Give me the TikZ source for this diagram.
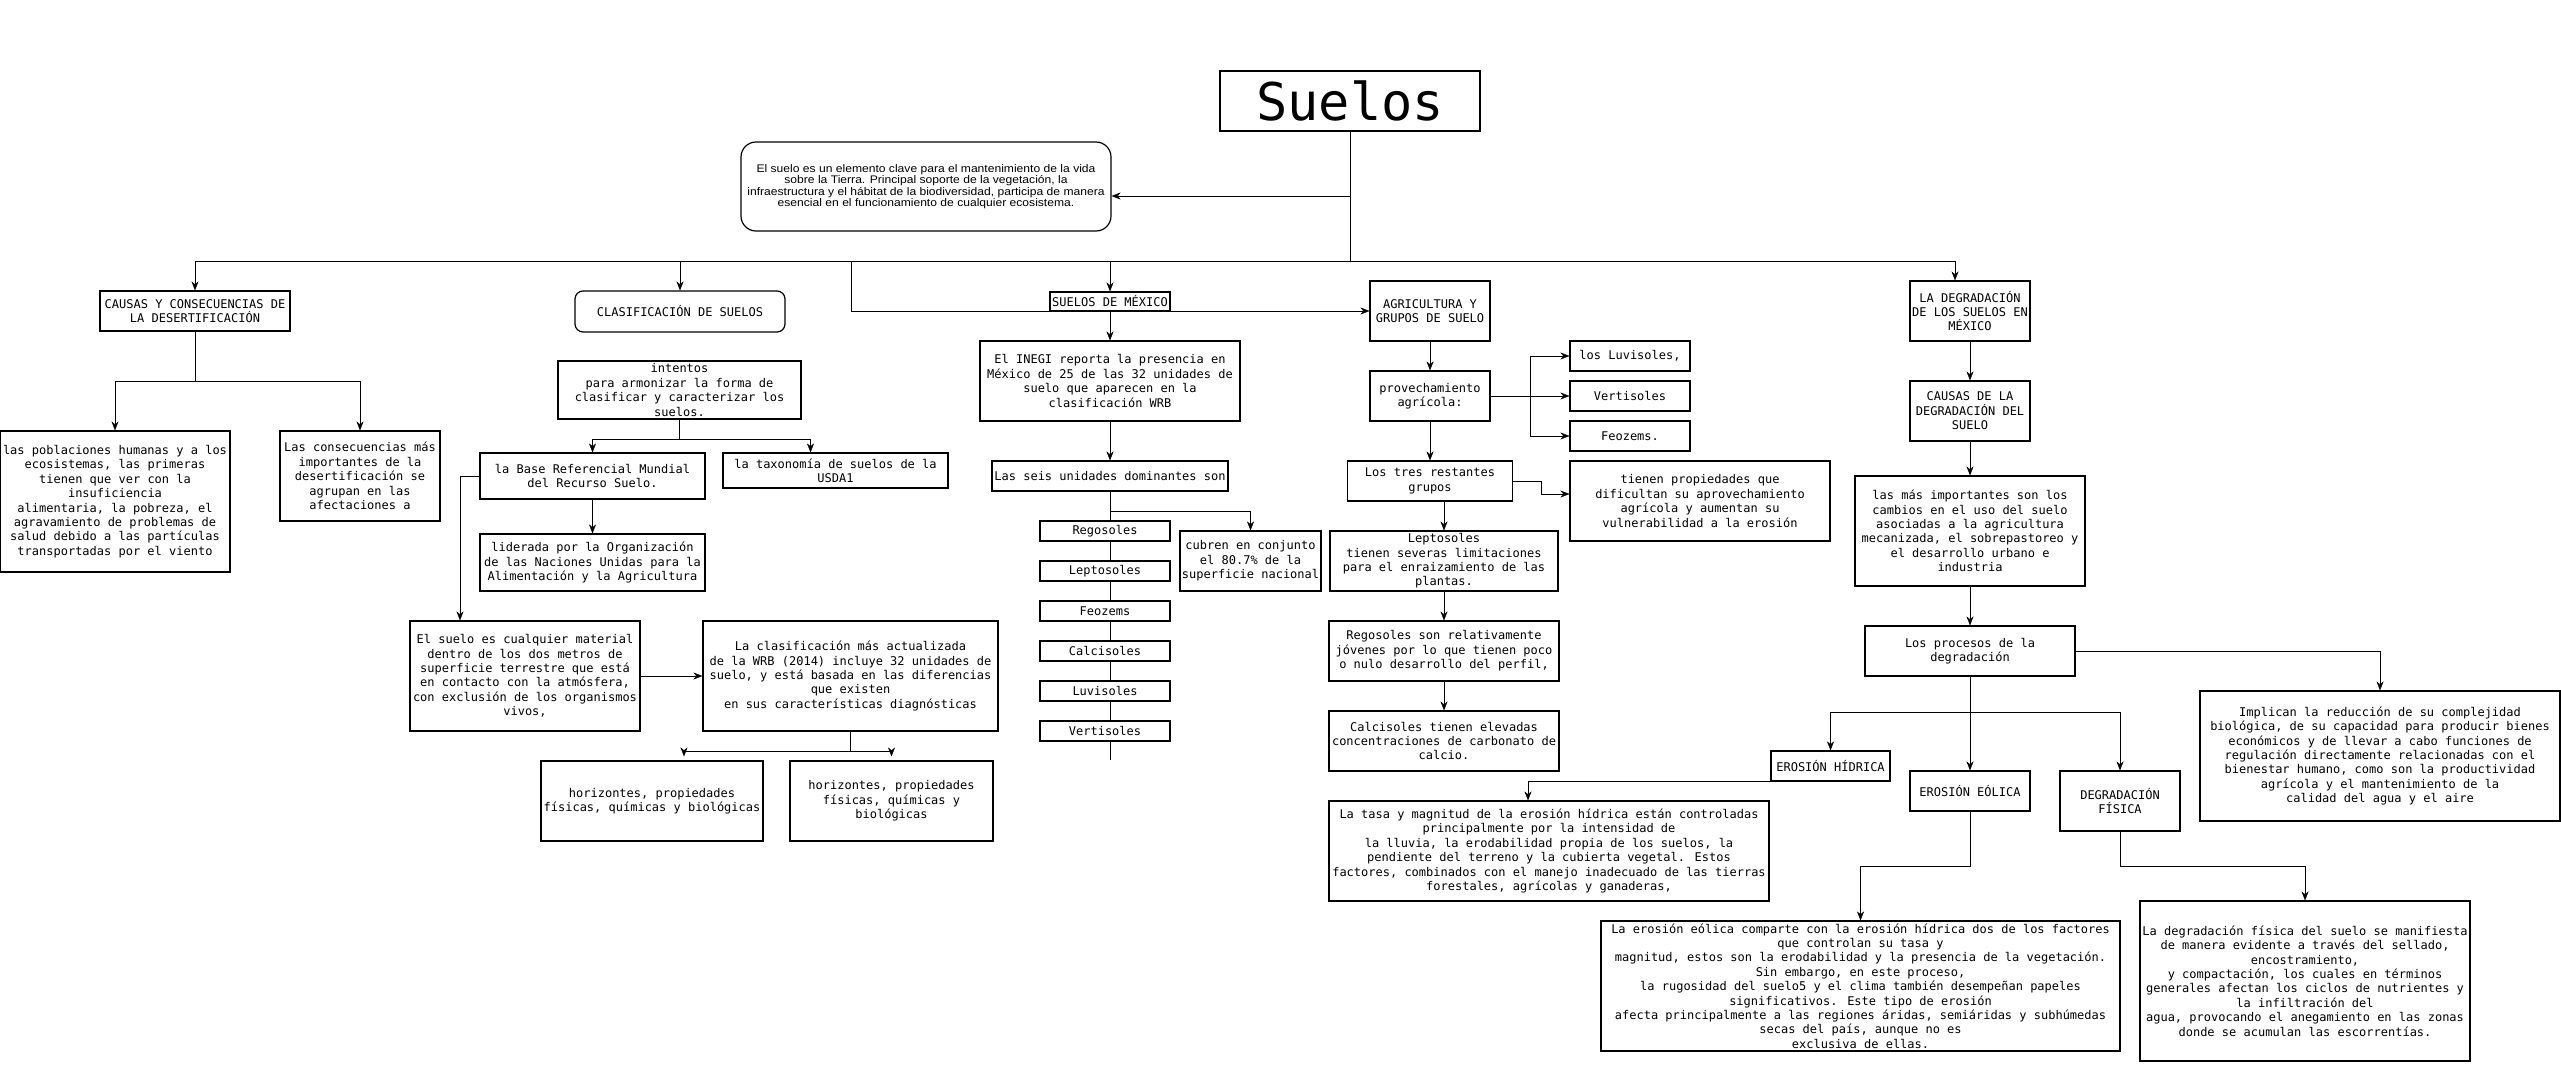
\documentclass[tikz,border=0pt]{standalone}
\usepackage{fontspec}
\usetikzlibrary{arrows.meta,backgrounds}
\newfontfamily\monofont{DejaVu Sans Mono}
\newfontfamily\introfont[FakeStretch=1.1]{Liberation Sans}

\begin{document}
\begin{tikzpicture}[x=1pt, y=-1pt, line width=1.2,
    box/.style={draw, fill=white, align=center, inner sep=1pt, font=\monofont\fontsize{12}{14.4}\selectfont},
    soil/.style={box, minimum width=130pt, minimum height=20pt},
    arr/.style={-{Stealth[length=9pt,width=7pt]}}]
    \useasboundingbox (0,0) rectangle (2561,1066);
    \node[box, minimum width=260pt, minimum height=60pt, font=\monofont\fontsize{52}{60}\selectfont] (suelos) at (1350,101) {Suelos};
    \node[box, rounded corners=15pt, minimum width=370pt, minimum height=89pt, font=\introfont\fontsize{11}{11.5}\selectfont] (intro) at (926,186.5) {El suelo es un elemento clave para el mantenimiento de la vida\\sobre la Tierra. Principal soporte de la vegetación, la\\infraestructura y el hábitat de la biodiversidad, participa de manera\\esencial en el funcionamiento de cualquier ecosistema.};
    \node[box, minimum width=190pt, minimum height=40pt] (causas) at (195,311) {CAUSAS Y CONSECUENCIAS DE\\LA DESERTIFICACIÓN};
    \node[box, minimum width=230pt, minimum height=141pt] (pobl) at (115,501.5) {las poblaciones humanas y a los\\ecosistemas, las primeras\\tienen que ver con la\\insuficiencia\\alimentaria, la pobreza, el\\agravamiento de problemas de\\salud debido a las partículas\\transportadas por el viento};
    \node[box, minimum width=160pt, minimum height=90pt] (consec) at (360,476) {Las consecuencias más\\importantes de la\\desertificación se\\agrupan en las\\afectaciones a};
    \node[box, rounded corners=8pt, minimum width=210pt, minimum height=41pt] (clasif) at (680,311.5) {CLASIFICACIÓN DE SUELOS};
    \node[box, minimum width=243pt, minimum height=58pt] (intentos) at (679.5,390) {intentos\\para armonizar la forma de\\clasificar y caracterizar los\\suelos.};
    \node[box, minimum width=225pt, minimum height=46pt] (base) at (592.5,476) {la Base Referencial Mundial\\del Recurso Suelo.};
    \node[box, minimum width=225pt, minimum height=35pt] (taxo) at (835.5,470.5) {la taxonomía de suelos de la\\USDA1};
    \node[box, minimum width=225pt, minimum height=57pt] (lider) at (592.5,562.5) {liderada por la Organización\\de las Naciones Unidas para la\\Alimentación y la Agricultura};
    \node[box, minimum width=230pt, minimum height=110pt] (elsuelo) at (525,676) {El suelo es cualquier material\\dentro de los dos metros de\\superficie terrestre que está\\en contacto con la atmósfera,\\con exclusión de los organismos\\vivos,};
    \node[box, minimum width=295pt, minimum height=110pt] (lacla) at (850.5,676) {La clasificación más actualizada\\de la WRB (2014) incluye 32 unidades de\\suelo, y está basada en las diferencias\\que existen\\en sus características diagnósticas};
    \node[box, minimum width=222pt, minimum height=80pt] (horiz1) at (652,801) {horizontes, propiedades\\físicas, químicas y biológicas};
    \node[box, minimum width=203pt, minimum height=80pt] (horiz2) at (891.5,801) {horizontes, propiedades\\físicas, químicas y\\biológicas};
    \node[box, minimum width=120pt, minimum height=19pt] (sumex) at (1110,301.5) {SUELOS DE MÉXICO};
    \node[box, minimum width=260pt, minimum height=80pt] (inegi) at (1110,381) {El INEGI reporta la presencia en\\México de 25 de las 32 unidades de\\suelo que aparecen en la\\clasificación WRB};
    \node[box, minimum width=236pt, minimum height=30pt] (seis) at (1110,476) {Las seis unidades dominantes son};
    \node[soil] (regos1) at (1105,531) {Regosoles};
    \node[soil] (lepto1) at (1105,571) {Leptosoles};
    \node[soil] (feoz1) at (1105,611) {Feozems};
    \node[soil] (calci1) at (1105,651) {Calcisoles};
    \node[soil] (luv1) at (1105,691) {Luvisoles};
    \node[soil] (vert1) at (1105,731) {Vertisoles};
    \node[box, minimum width=141pt, minimum height=60pt] (cubren) at (1250.5,561) {cubren en conjunto\\el 80.7\% de la\\superficie nacional};
    \node[box, minimum width=120pt, minimum height=60pt] (agri) at (1430,311) {AGRICULTURA Y\\GRUPOS DE SUELO};
    \node[box, minimum width=120pt, minimum height=50pt] (provech) at (1430,396) {provechamiento\\agrícola:};
    \node[box, minimum width=120pt, minimum height=30pt] (luv2) at (1630,356) {los Luvisoles,};
    \node[box, minimum width=120pt, minimum height=30pt] (vert2) at (1630,396) {Vertisoles};
    \node[box, minimum width=120pt, minimum height=30pt] (feoz2) at (1630,436) {Feozems.};
    \node[box, minimum width=165pt, minimum height=40pt] (lostres) at (1430,481) {Los tres restantes\\grupos};
    \node[box, minimum width=260pt, minimum height=80pt] (tienen) at (1700,501) {tienen propiedades que\\dificultan su aprovechamiento\\agrícola y aumentan su\\vulnerabilidad a la erosión};
    \node[box, minimum width=228pt, minimum height=60pt] (lepto) at (1444,561) {Leptosoles\\tienen severas limitaciones\\para el enraizamiento de las\\plantas.};
    \node[box, minimum width=230pt, minimum height=60pt] (regos) at (1444,651) {Regosoles son relativamente\\jóvenes por lo que tienen poco\\o nulo desarrollo del perfil,};
    \node[box, minimum width=230pt, minimum height=60pt] (calci) at (1444,741) {Calcisoles tienen elevadas\\concentraciones de carbonato de\\calcio.};
    \node[box, minimum width=440pt, minimum height=100pt] (latasa) at (1549,851) {La tasa y magnitud de la erosión hídrica están controladas\\principalmente por la intensidad de\\la lluvia, la erodabilidad propia de los suelos, la\\pendiente del terreno y la cubierta vegetal. Estos\\factores, combinados con el manejo inadecuado de las tierras\\forestales, agrícolas y ganaderas,};
    \node[box, minimum width=120pt, minimum height=60pt] (degmex) at (1970,311) {LA DEGRADACIÓN\\DE LOS SUELOS EN\\MÉXICO};
    \node[box, minimum width=120pt, minimum height=60pt] (causdeg) at (1970,411) {CAUSAS DE LA\\DEGRADACIÓN DEL\\SUELO};
    \node[box, minimum width=230pt, minimum height=110pt] (lasmas) at (1970,531) {las más importantes son los\\cambios en el uso del suelo\\asociadas a la agricultura\\mecanizada, el sobrepastoreo y\\el desarrollo urbano e\\industria};
    \node[box, minimum width=210pt, minimum height=50pt] (procesos) at (1970,651) {Los procesos de la\\degradación};
    \node[box, minimum width=360pt, minimum height=130pt] (implican) at (2380,756) {Implican la reducción de su complejidad\\biológica, de su capacidad para producir bienes\\económicos y de llevar a cabo funciones de\\regulación directamente relacionadas con el\\bienestar humano, como son la productividad\\agrícola y el mantenimiento de la\\calidad del agua y el aire};
    \node[box, minimum width=119pt, minimum height=30pt] (hidrica) at (1830.5,766) {EROSIÓN HÍDRICA};
    \node[box, minimum width=120pt, minimum height=40pt] (eolica) at (1970,791) {EROSIÓN EÓLICA};
    \node[box, minimum width=120pt, minimum height=60pt] (fisica) at (2120,801) {DEGRADACIÓN\\FÍSICA};
    \node[box, minimum width=519pt, minimum height=130pt] (laeolica) at (1860.5,986) {La erosión eólica comparte con la erosión hídrica dos de los factores\\que controlan su tasa y\\magnitud, estos son la erodabilidad y la presencia de la vegetación.\\Sin embargo, en este proceso,\\la rugosidad del suelo5 y el clima también desempeñan papeles\\significativos. Este tipo de erosión\\afecta principalmente a las regiones áridas, semiáridas y subhúmedas\\secas del país, aunque no es\\exclusiva de ellas.};
    \node[box, minimum width=330pt, minimum height=160pt] (ladegfis) at (2305,981) {La degradación física del suelo se manifiesta\\de manera evidente a través del sellado,\\encostramiento,\\ y compactación, los cuales en términos\\generales afectan los ciclos de nutrientes y\\la infiltración del\\agua, provocando el anegamiento en las zonas\\donde se acumulan las escorrentías.};
    \begin{scope}[on background layer]
    \fill[white] (0,0) rectangle (2561,1066);
    \coordinate (bus) at (1350,261);
    \coordinate (stem) at (1350,196);
    \draw (suelos.south) -- (bus);
    \draw[arr] (stem) -- (intro.east |- stem);
    \draw[arr] (bus) -| (causas.north);
    \draw[arr] (bus) -| (clasif.north);
    \draw[arr] (bus) -| (sumex.north);
    \draw[arr] (bus) -| ([xshift=-15pt]degmex.north);
    \coordinate (agj) at (851,261);
    \draw[arr] (agj) |- (agri.west);
    \coordinate (cb) at (195,381);
    \draw (causas.south) -- (cb);
    \draw[arr] (cb) -| (pobl.north);
    \draw[arr] (cb) -| (consec.north);
    \coordinate (ib) at (679.5,439);
    \draw (intentos.south) -- (ib);
    \draw[arr] (ib) -| (base.north);
    \draw[arr] (ib) -| ([xshift=-25pt]taxo.north);
    \draw[arr] (base.south) -- (lider.north);
    \draw[arr] (base.west) -| ([xshift=-65pt]elsuelo.north);
    \draw[arr] (elsuelo.east) -- (lacla.west);
    \coordinate (lb) at (850.5,751);
    \draw (lacla.south) -- (lb);
    \draw[arr, shorten >=4pt] (lb) -| ([xshift=32pt]horiz1.north);
    \draw[arr, shorten >=4pt] (lb) -| (horiz2.north);
    \draw[arr] (sumex.south) -- (inegi.north);
    \draw[arr] (inegi.south) -- (seis.north);
    \coordinate (sb) at (1110,511);
    \coordinate (se) at (1110,760);
    \draw (seis.south) -- (se);
    \draw[arr] (sb) -| (cubren.north);
    \draw[arr] (agri.south) -- (provech.north);
    \draw[arr] (provech.east) -- (vert2.west);
    \coordinate (pb) at (1530,396);
    \draw[arr] (pb) |- (luv2.west);
    \draw[arr] (pb) |- (feoz2.west);
    \draw[arr] (provech.south) -- (lostres.north);
    \draw[arr] (lostres.east) -- ++(28,0) |- ([yshift=7pt]tienen.west);
    \draw[arr] (lepto.north |- lostres.south) -- (lepto.north);
    \draw[arr] (lepto.south) -- (regos.north);
    \draw[arr] (regos.south) -- (calci.north);
    \draw[arr] (degmex.south) -- (causdeg.north);
    \draw[arr] (causdeg.south) -- (lasmas.north);
    \draw[arr] (lasmas.south) -- (procesos.north);
    \draw[arr] (procesos.east) -| (implican.north);
    \draw[arr] (procesos.south) -- (eolica.north);
    \coordinate (pj) at (1970,712);
    \draw[arr] (pj) -| (hidrica.north);
    \draw[arr] (pj) -| (fisica.north);
    \draw[arr] (hidrica.south west) -| ([xshift=-21pt]latasa.north);
    \draw[arr] (eolica.south) -- ++(0,55) -| (laeolica.north);
    \draw[arr] (fisica.south) -- ++(0,35) -| (ladegfis.north);
    \end{scope}
\end{tikzpicture}
\end{document}
